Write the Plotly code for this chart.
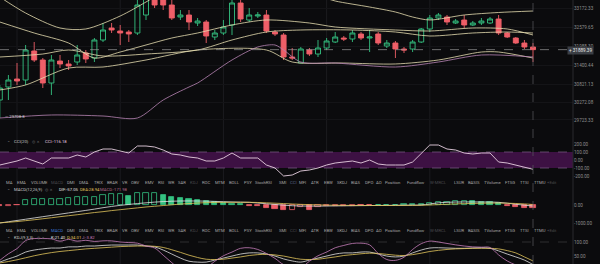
import plotly.graph_objects as go

# ---------------- data ----------------
idx = list(range(63))
opens = [30338.7, 30739.1, 30985.5, 30954.7, 31847.9, 31570.7, 30862.3, 31539.9, 31447.5, 31509.1,
         31786.3, 31632.3, 32186.7, 32556.3, 32463.9, 32433.1, 32402.3, 32956.7, 33511.1, 33418.7,
         33264.7, 32895.1, 32956.7, 32710.3, 32741.1, 32279.1, 32402.3, 32648.7, 33326.3, 32802.7,
         32925.9, 32956.7, 32433.1, 32340.7, 31663.1, 31478.3, 31878.7, 31755.5, 31940.3, 32125.1,
         32248.3, 32217.5, 32371.5, 32248.3, 32371.5, 32001.9, 32094.3, 31909.5, 31909.5, 32125.1,
         32525.5, 32864.3, 32895.1, 32710.3, 32802.7, 32648.7, 32710.3, 32710.3, 32833.5, 32402.3,
         32248.3, 32094.3, 31971.1]
closes = [30708.3, 30954.7, 30923.9, 31878.7, 31570.7, 30862.3, 31570.7, 31447.5, 31385.9, 31724.7,
          31601.5, 32186.7, 32494.7, 32494.7, 32402.3, 32371.5, 33264.7, 33572.7, 33264.7, 33264.7,
          32864.3, 32956.7, 32741.1, 32771.9, 32309.9, 32402.3, 32587.1, 33326.3, 32833.5, 32956.7,
          32956.7, 32463.9, 32371.5, 31663.1, 31632.3, 31909.5, 31755.5, 31940.3, 32155.9, 32279.1,
          32217.5, 32402.3, 32248.3, 32279.1, 32094.3, 32094.3, 31909.5, 31878.7, 32125.1, 32525.5,
          32864.3, 32956.7, 32741.1, 32771.9, 32648.7, 32710.3, 32771.9, 32833.5, 32402.3, 32279.1,
          32094.3, 31971.1, 31889.39]
highs = [30800.7, 31108.7, 31478.3, 32032.7, 32125.1, 31632.3, 31724.7, 31724.7, 31570.7, 32032.7,
         31878.7, 32248.3, 32710.3, 32710.3, 32648.7, 32494.7, 33418.7, 33726.7, 33665.1, 33541.9,
         33418.7, 33110.7, 33110.7, 32864.3, 32802.7, 32494.7, 32802.7, 33418.7, 33418.7, 33172.3,
         33049.1, 33110.7, 32494.7, 32402.3, 31940.3, 31971.1, 31940.3, 32186.7, 32248.3, 32433.1,
         32309.9, 32494.7, 32433.1, 32494.7, 32433.1, 32186.7, 32155.9, 31971.1, 32186.7, 32556.3,
         32956.7, 33018.3, 32956.7, 32833.5, 32956.7, 32771.9, 32864.3, 32895.1, 32956.7, 32433.1,
         32279.1, 32186.7, 32094.3]
lows = [29784.3, 30338.7, 30800.7, 30800.7, 31509.1, 30708.3, 30492.7, 31324.3, 31262.7, 31416.7,
        31478.3, 31509.1, 32125.1, 32402.3, 32032.7, 32125.1, 32340.7, 32802.7, 33172.3, 33110.7,
        32802.7, 32802.7, 32494.7, 32617.9, 32094.3, 32186.7, 32340.7, 32340.7, 32741.1, 32741.1,
        32864.3, 32402.3, 32309.9, 31570.7, 31570.7, 31478.3, 31693.9, 31663.1, 31878.7, 32094.3,
        32155.9, 32125.1, 32186.7, 31817.1, 32032.7, 31940.3, 31632.3, 31786.3, 31817.1, 32094.3,
        32433.1, 32802.7, 32648.7, 32679.5, 32556.3, 32617.9, 32648.7, 32679.5, 32340.7, 32248.3,
        32063.5, 31909.5, 31509.1]
last_price = 31889.39
low_marker = 29708.8

# overlay lines on the price chart (candle index, price)
upper_idx = [0, 3, 7, 10, 14, 17, 19, 22, 28, 33, 37, 39, 43, 46, 48, 50, 54, 58, 62]
upper_val = [33511, 33018, 32556, 32526, 32926, 33357, 33665, 33881, 33912, 33788, 33542, 33388,
             33203, 33049, 32895, 32803, 32957, 33034, 33080]
fast_idx = [0, 4, 8, 11, 14, 17, 20, 23, 27, 31, 36, 39, 46, 50, 55, 59, 62]
fast_val = [32741, 32402, 32094, 31632, 31817, 32033, 32248, 32402, 32649, 32803, 32710, 32587,
            32495, 32464, 32556, 32526, 32341]
mid_idx = [0, 5, 8, 12, 17, 23, 27, 31, 35, 41, 46, 50, 55, 59, 62]
mid_val = [31663, 31755, 31879, 31694, 31755, 31879, 32187, 32433, 32495, 32495, 32433, 32310,
           32402, 32433, 32402]
lower_idx = [0, 3, 8, 12, 17, 23, 31, 34, 40, 46, 51, 56, 58, 62]
lower_val = [30647, 30801, 31324, 31355, 31571, 31879, 31879, 31509, 31478, 31448, 31571, 31817,
             31817, 31632]
pink_idx = [0, 6, 12, 16, 19, 22, 23, 27, 30, 32, 33, 35, 39, 46, 51, 56, 62]
pink_val = [29784, 29877, 29846, 29784, 30339, 30739, 30862, 31571, 31971, 32033, 31879, 31509,
            31478, 31355, 31509, 31725, 31663]

cci = [-62.5, -37.5, -12.5, 25, -12.5, -50, 25, 25, 25, 62.5,
       37.5, 100, 137.5, 137.5, 112.5, 87.5, 175, 175, 162.5, 125,
       75, 62.5, 37.5, 25, -12.5, -12.5, 25, 87.5, 25, 25,
       25, -62.5, -100, -200, -187.5, -137.5, -125, -100, -62.5, -37.5,
       -25, -12.5, -37.5, 0, -50, -62.5, -62.5, -62.5, -25, 87.5,
       187.5, 187.5, 137.5, 125, 87.5, 75, 87.5, 87.5, -25, -37.5,
       -62.5, -87.5, -116.18]

macd_hist = [-30, -30, -20, 278, 333, 333, 361, 361, 389, 444,
             461, 472, 556, 594, 611, 500, 650, 650, 683, 556,
             461, 389, 333, 278, 200, 150, 100, 60, 30, -30,
             -60, -170, -220, -280, -250, -90, -280, -100, -60, -50,
             -40, -30, -20, -20, 10, 20, 20, 30, 40, 60,
             120, 170, 170, 200, 220, 200, 170, 150, 100, -60,
             -110, -150, -171.98]
dif = [-1000, -930, -860, -790, -720, -650, -580, -510, -440, -370,
       -300, -230, -150, -80, -20, 30, 80, 120, 160, 190,
       210, 222, 225, 222, 215, 200, 185, 170, 160, 150,
       110, 70, 30, -10, -40, -56, -60, -60, -55, -50,
       -45, -40, -35, -30, -25, -20, -15, -10, -5, 0,
       60, 120, 150, 165, 170, 170, 168, 165, 150, 100,
       40, -10, -57.05]
dea = [-990, -960, -920, -870, -820, -765, -710, -650, -595, -540,
       -480, -420, -370, -310, -260, -210, -160, -110, -70, -30,
       10, 50, 80, 110, 130, 140, 145, 148, 150, 150,
       140, 120, 100, 80, 55, 35, 20, 5, -5, -12,
       -18, -22, -25, -27, -28, -28, -26, -23, -20, -15,
       0, 20, 40, 60, 75, 88, 98, 105, 108, 100,
       85, 60, 28.94]

k_line = [30, 41, 51, 65, 72, 76, 79, 79, 83, 83,
          86, 86, 88, 89.5, 89.5, 89.5, 89.5, 86, 83, 72,
          58, 44, 33, 30, 30, 37, 44, 51, 58, 62,
          62, 58, 51, 41, 34, 30, 37, 44, 51, 58,
          62, 62, 65, 65, 58, 51, 48, 51, 62, 72,
          79, 80, 79, 78, 78, 79, 80, 78, 69, 58,
          48, 37, 21.4]
d_line = [27, 32, 38, 45, 52, 58, 63, 67, 70, 73,
          76, 78, 80, 82, 84, 85, 86, 86, 85, 81,
          73, 64, 54, 46, 40, 39, 40, 44, 48, 53,
          56, 57, 55, 51, 45, 40, 39, 40, 44, 48,
          53, 56, 59, 61, 60, 57, 54, 53, 56, 61,
          67, 71, 74, 76, 77, 78, 78, 78, 76, 70,
          62, 48, 34.01]
j_line = [36, 59, 77, 105, 112, 112, 111, 103, 109, 103,
          106, 102, 104, 104, 100, 98, 96, 86, 79, 54,
          28, 4, -9, -2, 10, 33, 52, 65, 78, 80,
          74, 60, 43, 21, 12, 10, 33, 52, 65, 80,
          88, 95, 96, 90, 60, 39, 36, 47, 74, 94,
          103, 100, 95, 90, 86, 83, 82, 81, 55, 34,
          20, 12, -3.82]

price_ticks = [33172.33, 32579.65, 31988.30, 31400.44, 30821.13, 30272.08, 29723.33]
cci_ticks = [200, 100, 0, -100, -200]
macd_ticks = [0, -1000]
kdj_ticks = [100, 50]

tab_labels = ["MA", "EMA", "VOLUME", "MACD", "DMI", "DMA", "TRIX", "BRAR", "VR", "OBV",
              "EMV", "RSI", "WR", "SAR", "KDJ", "ROC", "MTM", "BOLL", "PSY", "StochRSI",
              "SMI", "CCI", "MFI", "ATR", "EBW", "SKDJ", "BIAS", "DPO", "AO", "Position",
              "Fundflow", "W-MRCL", "LSUR", "BASIS", "TVolume", "FTSG", "TTSI", "TTMU", "+Edit"]

# ---------------- layout constants ----------------
W, H = 600, 264
PW = 573  # plot area width in px
BG = "#0b0b0d"
GREEN = "#34c281"
RED = "#ee5f68"
CREAM = "#e6ddb0"
PINK = "#b884b4"
WHITE = "#e2e2e2"
YEL = "#e2c55c"
JCOL = "#c77dba"
FONT = "Roboto"
TAB_X = [4, 15, 29, 49, 65, 77, 92, 105, 120, 129, 143, 156, 166, 176, 188, 200, 213, 227, 242, 253,
         277, 288, 297, 309, 322, 335, 349, 363, 374, 383, 405, 428, 452, 466, 482, 503, 518, 532, 545]


def py(p):
    return 1 - p / H


fig = go.Figure()

fig.add_trace(go.Candlestick(
    x=idx, open=opens, high=highs, low=lows, close=closes,
    increasing=dict(line=dict(color=GREEN, width=0.9), fillcolor="rgba(0,0,0,0)"),
    decreasing=dict(line=dict(color=RED, width=0.9), fillcolor=RED),
    whiskerwidth=0, xaxis="x", yaxis="y", hoverinfo="skip"))

for xs, ys, col in [(upper_idx, upper_val, CREAM), (fast_idx, fast_val, CREAM),
                    (mid_idx, mid_val, CREAM), (lower_idx, lower_val, CREAM),
                    (pink_idx, pink_val, PINK)]:
    fig.add_trace(go.Scatter(x=xs, y=ys, mode="lines", xaxis="x", yaxis="y",
                             line=dict(color=col, width=0.8, shape="spline", smoothing=0.8),
                             hoverinfo="skip"))

fig.add_trace(go.Scatter(x=idx, y=cci, mode="lines", xaxis="x", yaxis="y2",
                         line=dict(color="#e6cfe0", width=0.9), hoverinfo="skip"))

bar_fill, bar_line = [], []
for i, v in enumerate(macd_hist):
    col = GREEN if v >= 0 else RED
    falling = i == 0 or v < macd_hist[i - 1]
    bar_line.append(col)
    bar_fill.append(col if falling else BG)
fig.add_trace(go.Bar(x=idx, y=macd_hist, width=0.6, xaxis="x", yaxis="y3",
                     marker=dict(color=bar_fill, line=dict(color=bar_line, width=0.8)),
                     hoverinfo="skip"))
fig.add_trace(go.Scatter(x=idx, y=dif, mode="lines", xaxis="x", yaxis="y3",
                         line=dict(color=WHITE, width=0.8, shape="spline"), hoverinfo="skip"))
fig.add_trace(go.Scatter(x=idx, y=dea, mode="lines", xaxis="x", yaxis="y3",
                         line=dict(color=YEL, width=0.8, shape="spline"), hoverinfo="skip"))

for ys, col in [(k_line, WHITE), (d_line, YEL), (j_line, JCOL)]:
    fig.add_trace(go.Scatter(x=idx, y=ys, mode="lines", xaxis="x", yaxis="y4",
                             line=dict(color=col, width=0.8, shape="spline"), hoverinfo="skip"))

tickfont = dict(size=4.6, color="#8e8e8e", family=FONT)


def yax(dom_px, rng, tv, tt, grid=False):
    return dict(domain=[py(dom_px[1]), py(dom_px[0])], range=rng, side="right", anchor="x",
                tickvals=tv, ticktext=tt, tickfont=tickfont, showgrid=grid,
                gridcolor="#141417", gridwidth=1, zeroline=False, showline=False,
                ticks="", fixedrange=True)


fig.update_layout(
    width=W, height=H, margin=dict(l=0, r=W - PW, t=0, b=0),
    paper_bgcolor=BG, plot_bgcolor=BG, showlegend=False,
    boxgap=0.42, boxgroupgap=0, bargap=0,
    font=dict(family=FONT, color="#a8a8a8"),
    xaxis=dict(range=[0.023, 66.65], showticklabels=False, showgrid=False, zeroline=False,
               showline=False, rangeslider=dict(visible=False), fixedrange=True, anchor="y"),
    yaxis=yax((0, 131), [29383.9, 33418.7], price_ticks, [f"{v:.2f}" for v in price_ticks], True),
    yaxis2=yax((134, 178), [-225, 325], cci_ticks, [f"{v:.2f}" for v in cci_ticks]),
    yaxis3=yax((186, 226), [-1166.7, 1055.6], macd_ticks, [f"{v:.2f}" for v in macd_ticks]),
    yaxis4=yax((235, 264), [23.35, 124.4], kdj_ticks, [f"{v:.2f}" for v in kdj_ticks]),
)

shapes = []
for gx in [2, 14, 26, 38, 50]:
    shapes.append(dict(type="line", xref="x", yref="paper", x0=gx, x1=gx, y0=0, y1=1,
                       line=dict(color="#1b1b1f", width=1), layer="below"))
shapes.append(dict(type="rect", xref="paper", yref="y2", x0=0, x1=1, y0=-100, y1=100,
                   fillcolor="#3d1143", line=dict(width=0), layer="below"))
for lv in [100, -100]:
    shapes.append(dict(type="line", xref="paper", yref="y2", x0=0, x1=1, y0=lv, y1=lv,
                       line=dict(color="#80608a", width=0.7, dash="dash"), layer="below"))
shapes.append(dict(type="line", xref="paper", yref="y4", x0=0, x1=1, y0=100, y1=100,
                   line=dict(color="#3c3c40", width=0.7, dash="dash"), layer="below"))
shapes.append(dict(type="line", xref="x", yref="paper", x0=62, x1=62, y0=0, y1=1,
                   line=dict(color="#5a5a5e", width=0.7, dash="dash")))
shapes.append(dict(type="line", xref="paper", yref="y", x0=0, x1=567 / PW,
                   y0=last_price, y1=last_price,
                   line=dict(color="#9a9a9a", width=0.7, dash="dash")))
shapes.append(dict(type="line", xref="paper", yref="paper", x0=1, x1=1, y0=0, y1=1,
                   line=dict(color="#2a2a2e", width=1)))
fig.update_layout(shapes=shapes)

ann = []


def label(text, px, pyy, color, size=4.2, family=FONT):
    ann.append(dict(text=text, x=px / PW, y=py(pyy), xref="paper", yref="paper",
                    xanchor="left", yanchor="middle", showarrow=False,
                    font=dict(size=size, color=color, family=family)))


label("+ " + f"{last_price:.2f}", 567, 51, "#e6e6e6", 4.6)
ann[-1].update(bgcolor="#3b3e44", borderpad=1)
label("— " + f"{low_marker:.1f}", 3, 116, "#d0d0d0", 4.2)

# indicator headers
sym = "DejaVu Sans"
label("⌄", 5, 140, "#8a8a8a", 4, sym)
label("CCI(20)", 12, 141, "#c8c8c8")
label("◎ ×", 30, 141, "#6a6a6a", 3.8, sym)
label("CCI:-116.18", 43, 141, "#e6cfe0")

label("⌄", 5, 188, "#8a8a8a", 4, sym)
label("MACD(12,26,9)", 12, 189, "#c8c8c8")
label("◎ ×", 43, 189, "#6a6a6a", 3.8, sym)
label("DIF:-57.05", 57, 189, WHITE)
label("DEA:28.94", 78, 189, YEL)
label("MACD:-171.98", 98, 189, "#b46c8c")

label("⌄", 5, 236, "#8a8a8a", 4, sym)
label("KDJ(9,3,3)", 12, 237, "#c8c8c8")
label("◎ ×", 35, 237, "#6a6a6a", 3.8, sym)
label("K:21.40", 49, 237, WHITE)
label("D:34.01", 65, 237, YEL)
label("J:-3.82", 80, 237, JCOL)

# tab rows
dim = {"MACD", "KDJ", "W-MRCL", "+Edit", "CCI"}
for row_y, active, active_col in [(182, "CCI", "#5a6686"), (230, "MACD", "#3e7ad6")]:
    for t, tx in zip(tab_labels, TAB_X):
        if t == active:
            c = active_col
        elif t in dim:
            c = "#4a4a4e"
        else:
            c = "#a8a8a8"
        label(t, tx, row_y, c, 4.2)

fig.update_layout(annotations=ann)
fig.write_html("out.html")
